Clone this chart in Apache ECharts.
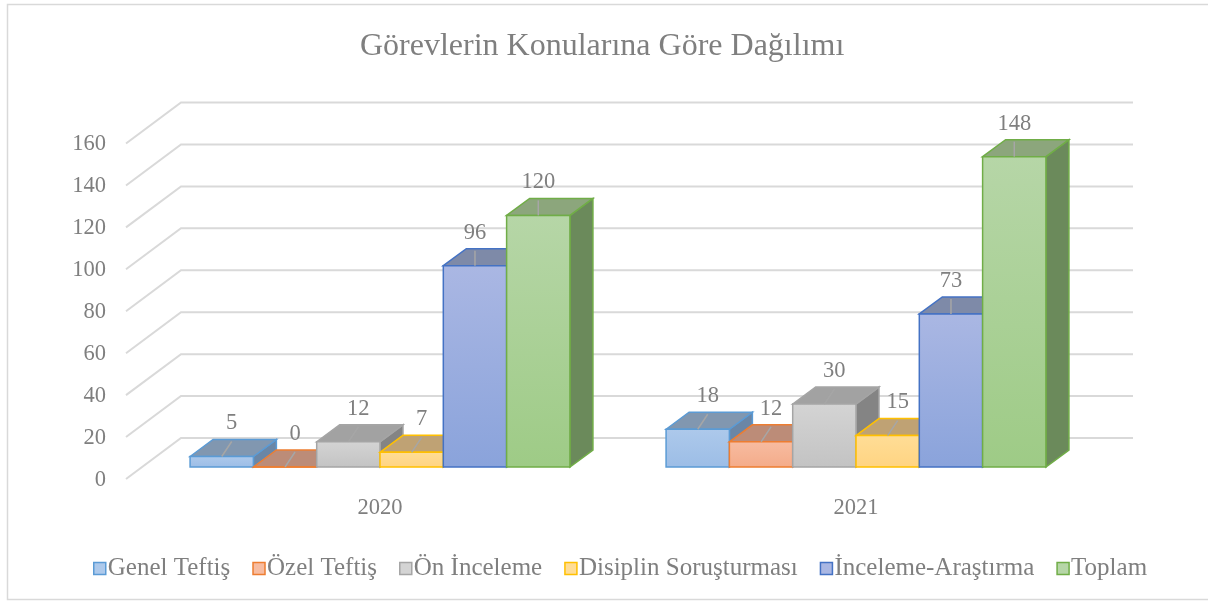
<!DOCTYPE html>
<html>
<head>
<meta charset="utf-8">
<title>Görevlerin Konularına Göre Dağılımı</title>
<script src="https://cdn.jsdelivr.net/npm/echarts@6/dist/echarts.min.js"></script>
<style>
  html, body { margin: 0; padding: 0; background: #fff; }
  #main { width: 1208px; height: 602px; }
</style>
</head>
<body>
<div id="main"></div>
<script>
// veriler
var years = ['2020', '2021'];
var seriesNames = ['Genel Teftiş', 'Özel Teftiş', 'Ön İnceleme', 'Disiplin Soruşturması', 'İnceleme-Araştırma', 'Toplam'];
var genelTeftis = [5, 18];
var ozelTeftis = [0, 12];
var onInceleme = [12, 30];
var disiplin = [7, 15];
var incelemeArastirma = [96, 73];
var toplam = [120, 148];
var yTicks = [0, 20, 40, 60, 80, 100, 120, 140, 160];

var allValues = [genelTeftis, ozelTeftis, onInceleme, disiplin, incelemeArastirma, toplam];

// renkler: kenar, ön yüz (üst/alt), üst yüz, yan yüz
var colors = [
  { border: '#5b9bd5', front1: '#adc9eb', front2: '#9cbde6', top: '#8197b0', side: '#6a86a6' },
  { border: '#ed7d31', front1: '#f7bca1', front2: '#f4ab89', top: '#bc8c78', side: '#9f735f' },
  { border: '#a5a5a5', front1: '#d4d4d4', front2: '#c3c3c3', top: '#a2a2a2', side: '#848484' },
  { border: '#ffc000', front1: '#ffdd96', front2: '#ffd482', top: '#bfa274', side: '#a08452' },
  { border: '#4472c4', front1: '#aab7e3', front2: '#8aa3db', top: '#7e8aa8', side: '#5e6f98' },
  { border: '#70ad47', front1: '#b6d6a7', front2: '#9ecb86', top: '#8ca67c', side: '#6b8a5b' }
];

var textColor = '#7f7f7f';
var fontFamily = "'Liberation Serif', 'Times New Roman', serif";
var gridColor = '#d9d9d9';

// 3D derinlik ofsetleri (piksel)
var DX = 23, DY = -17;          // çubuk derinliği
var BACK_DX = 39, BACK_DY = -29; // arka duvar
var FRONT_DX = -16, FRONT_DY = 12; // ön düzlem

function makeBarRender (idx) {
  var c = colors[idx];
  return function (params, api) {
    var cat = api.value(0);
    var v = api.value(1);
    var base = api.coord([cat, 0]);
    var topPt = api.coord([cat, v]);
    var band = api.size([1, 0])[0];
    var bw = band * 0.133;
    var xl = base[0] - 3 * bw + idx * bw;
    var xr = xl + bw;
    var y0 = base[1];
    var yt = topPt[1];
    var cx = xl + bw / 2;
    var lx = v < 50 ? cx + 10 : cx;
    return {
      type: 'group',
      children: [
        {
          type: 'polygon',
          shape: { points: [[xr, yt], [xr + DX, yt + DY], [xr + DX, y0 + DY], [xr, y0]] },
          style: { fill: c.side, stroke: c.border, lineWidth: 1.5 }
        },
        {
          type: 'polygon',
          shape: { points: [[xl, yt], [xl + DX, yt + DY], [xr + DX, yt + DY], [xr, yt]] },
          style: { fill: c.top, stroke: c.border, lineWidth: 1.5 }
        },
        {
          type: 'rect',
          shape: { x: xl, y: yt, width: bw, height: Math.max(y0 - yt, 0) },
          style: {
            fill: new echarts.graphic.LinearGradient(0, 0, 0, 1, [
              { offset: 0, color: c.front1 },
              { offset: 1, color: c.front2 }
            ]),
            stroke: c.border,
            lineWidth: 1.5
          }
        },
        {
          type: 'line',
          shape: { x1: cx, y1: yt, x2: lx, y2: yt - 15 },
          style: { stroke: '#a6a6a6', lineWidth: 1.5 }
        },
        {
          type: 'text',
          style: {
            text: String(v),
            x: lx,
            y: yt - 33,
            align: 'center',
            verticalAlign: 'middle',
            fill: textColor,
            font: '22.5px ' + fontFamily
          }
        }
      ]
    };
  };
}

var series = [];
// arka duvar ve yan duvar ızgara çizgileri + ön düzlemdeki değer etiketleri
series.push({
  type: 'custom',
  name: 'grid',
  silent: true,
  clip: false,
  data: yTicks.map(function (t) { return [0, t]; }),
  renderItem: function (params, api) {
    var cs = params.coordSys;
    var t = api.value(1);
    var y = api.coord([0, t])[1];
    return {
      type: 'group',
      children: [
        {
          type: 'polyline',
          shape: {
            points: [
              [cs.x + FRONT_DX, y + FRONT_DY],
              [cs.x + BACK_DX, y + BACK_DY],
              [cs.x + cs.width + BACK_DX, y + BACK_DY]
            ]
          },
          style: { stroke: gridColor, lineWidth: 2, fill: null }
        },
        {
          type: 'text',
          style: {
            text: String(t),
            x: cs.x - 36,
            y: y + 13,
            align: 'right',
            verticalAlign: 'middle',
            fill: textColor,
            font: '22.5px ' + fontFamily
          }
        }
      ]
    };
  }
});

for (var i = 0; i < seriesNames.length; i++) {
  series.push({
    type: 'custom',
    name: seriesNames[i],
    clip: false,
    data: allValues[i].map(function (v, k) { return [k, v]; }),
    renderItem: makeBarRender(i)
  });
}

var dom = document.getElementById('main');
var myChart = echarts.init(dom);

var option = {
  animation: false,
  backgroundColor: '#fff',
  title: {
    text: 'Görevlerin Konularına Göre Dağılımı',
    left: 355,
    top: 26,
    textStyle: { color: textColor, fontFamily: fontFamily, fontSize: 32, fontWeight: 'normal' }
  },
  graphic: [
    {
      type: 'polyline',
      silent: true,
      shape: { points: [[1208, 4.5], [7.5, 4.5], [7.5, 599.5], [1208, 599.5]] },
      style: { stroke: '#d9d9d9', lineWidth: 1.5, fill: null }
    }
  ],
  legend: {
    left: 88,
    top: 551,
    itemWidth: 12,
    itemHeight: 12,
    itemGap: 22,
    icon: 'rect',
    textStyle: { color: textColor, fontFamily: fontFamily, fontSize: 25, padding: [0, 0, 0, -3] },
    data: seriesNames.map(function (n, k) {
      return {
        name: n,
        itemStyle: { color: colors[k].front1, borderColor: colors[k].border, borderWidth: 1.5 }
      };
    })
  },
  grid: { left: 142, right: 114, top: 131.5, bottom: 135 },
  xAxis: {
    type: 'category',
    data: years,
    axisLine: { show: false },
    axisTick: { show: false },
    axisLabel: { margin: 30, color: textColor, fontFamily: fontFamily, fontSize: 22.5 }
  },
  yAxis: {
    type: 'value',
    min: 0,
    max: 160,
    interval: 20,
    axisLine: { show: false },
    axisTick: { show: false },
    splitLine: { show: false },
    axisLabel: { show: false }
  },
  series: series
};

myChart.setOption(option);
</script>
</body>
</html>
